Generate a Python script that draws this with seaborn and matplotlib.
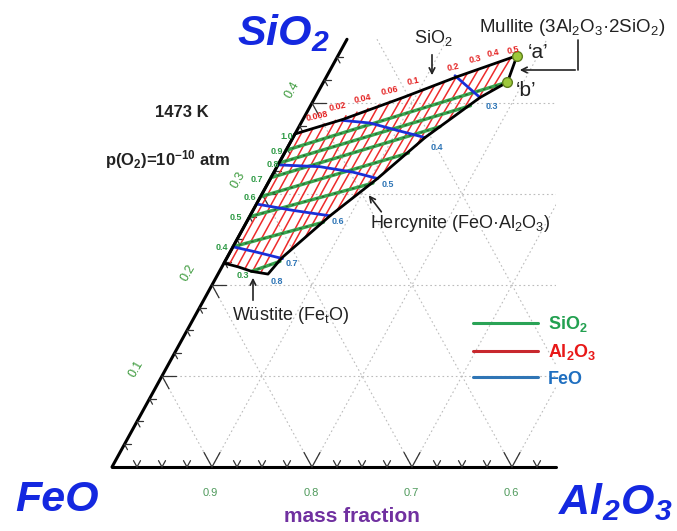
import numpy as np
import pandas as pd
import seaborn as sns
import matplotlib.pyplot as plt
from matplotlib.lines import Line2D
from matplotlib.patches import Polygon

sns.set_style('white')
plt.rcParams['font.family'] = ['Liberation Sans', 'DejaVu Sans']
plt.rcParams['mathtext.fontset'] = 'custom'
plt.rcParams['mathtext.rm'] = 'Liberation Sans'
plt.rcParams['mathtext.it'] = 'Liberation Sans:italic'
plt.rcParams['mathtext.bf'] = 'Liberation Sans:bold'
plt.rcParams['mathtext.default'] = 'regular'

# all compositions are mass fractions: (SiO2, Al2O3), FeO = rest

# liquid region boundaries
sio2_sat_si = [0.366, 0.382, 0.406, 0.429, 0.452]
sio2_sat_al = [0.000, 0.040, 0.088, 0.131, 0.179]
hercynite_si = [0.423, 0.406, 0.362, 0.317, 0.276, 0.230, 0.212]
hercynite_al = [0.184, 0.165, 0.132, 0.107, 0.080, 0.055, 0.050]
wustite_si = [0.212, 0.215, 0.220, 0.224]
wustite_al = [0.050, 0.032, 0.016, 0.000]
point_si = [0.452, 0.423]   # 'a', 'b'
point_al = [0.179, 0.184]

# iso-activity lines of Al2O3 (red): top and bottom ends
red_top_si = [0.368, 0.372, 0.377, 0.381, 0.386, 0.390, 0.394, 0.398, 0.402, 0.405,
              0.409, 0.414, 0.419, 0.423, 0.428, 0.432, 0.437, 0.441, 0.445, 0.449]
red_top_al = [0.006, 0.015, 0.024, 0.033, 0.041, 0.050, 0.059, 0.068, 0.077, 0.087,
              0.095, 0.104, 0.113, 0.121, 0.130, 0.139, 0.148, 0.157, 0.165, 0.174]
red_bot_si = [0.223, 0.220, 0.218, 0.215, 0.214, 0.222, 0.237, 0.252, 0.266, 0.281,
              0.295, 0.308, 0.322, 0.338, 0.353, 0.367, 0.380, 0.392, 0.403, 0.412]
red_bot_al = [0.006, 0.015, 0.024, 0.033, 0.042, 0.053, 0.059, 0.067, 0.075, 0.084,
              0.093, 0.101, 0.110, 0.119, 0.128, 0.136, 0.146, 0.155, 0.164, 0.172]
red_labels = ['0.008', '0.02', '0.04', '0.06', '0.1', '0.2', '0.3', '0.4', '0.5']

# iso-activity lines of SiO2 (green)
green_labels = ['1.0', '0.9', '0.8', '0.7', '0.6', '0.5', '0.4', '0.3']
green_start_si = [0.348, 0.334, 0.318, 0.297, 0.275, 0.242, 0.215]
green_start_al = [0.000, 0.000, 0.000, 0.000, 0.000, 0.000, 0.032]
green_end_si = [0.423, 0.397, 0.374, 0.345, 0.312, 0.269, 0.226]
green_end_al = [0.184, 0.160, 0.141, 0.124, 0.105, 0.077, 0.055]

# iso-activity lines of FeO (blue)
blue_labels = ['0.3', '0.4', '0.5', '0.6', '0.7', '0.8']
blue_si = [[0.430, 0.406], [0.381, 0.378, 0.370, 0.362], [0.332, 0.330, 0.324, 0.317],
           [0.289, 0.282, 0.276], [0.242, 0.236, 0.229]]
blue_al = [[0.128, 0.165], [0.039, 0.069, 0.100, 0.132], [0.000, 0.043, 0.079, 0.107],
           [0.000, 0.040, 0.080], [0.000, 0.027, 0.056]]

feo_ticks = ['0.9', '0.8', '0.7', '0.6']
sio2_ticks = ['0.1', '0.2', '0.3', '0.4']

SQ3 = np.sqrt(3) / 2
SI_MAX = 0.47
AL_MAX = 0.444


def tern(si, al):
    si = np.asarray(si, dtype=float)
    al = np.asarray(al, dtype=float)
    return al + si / 2, si * SQ3


def pix(px, py):
    # layout helper: picture pixel -> data coords
    return (px - 112) / 1000, (467 - py) / 1050.8


def frame(si_lists, al_lists, name):
    rows = []
    for i, (s, a) in enumerate(zip(si_lists, al_lists)):
        x, y = tern(s, a)
        for xx, yy in zip(x, y):
            rows.append((name + str(i), xx, yy))
    return pd.DataFrame(rows, columns=['line', 'x', 'y'])


fig = plt.figure(figsize=(6.77, 5.31), dpi=100)
ax = fig.add_axes([0, 0, 1, 1])
ax.set_xlim(-0.112, 0.565)
ax.set_ylim(-64 / 1050.8, 467 / 1050.8)
ax.axis('off')

# dotted grid, clipped to the visible part of the triangle
clip = Polygon([tern(0, 0), tern(0, AL_MAX), (AL_MAX, SI_MAX * SQ3), tern(SI_MAX, 0)],
               closed=True, transform=ax.transData, fill=False, lw=0)
ax.add_patch(clip)
grid_kw = dict(color='#bcbcbc', lw=0.8, ls=(0, (1.5, 2.5)), zorder=1)
for v in [0.1, 0.2, 0.3, 0.4]:
    for s, a in [([v, v], [0, 1]), ([0, 1 - v], [v, v])]:
        gl, = ax.plot(*tern(s, a), **grid_kw)
        gl.set_clip_path(clip)
for f in [0.9, 0.8, 0.7, 0.6, 0.5]:
    gl, = ax.plot(*tern([1 - f, 0], [0, 1 - f]), **grid_kw)
    gl.set_clip_path(clip)

# triangle edges
ax.plot(*tern([0, 0], [0, AL_MAX]), color='black', lw=2.2, zorder=3)
ax.plot(*tern([0, SI_MAX], [0, 0]), color='black', lw=2.2, zorder=3)

# ticks (V shapes along the bottom, < shapes along the left edge)
for k in range(1, 18):
    t = k * 0.025
    d = 0.016 if k % 4 == 0 else 0.007
    for s, a in [([0, d], [t, t]), ([0, d], [t, t - d])]:
        ax.plot(*tern(s, a), color='#333333', lw=0.9, zorder=3)
for k in range(1, 19):
    t = k * 0.025
    d = 0.014 if k % 4 == 0 else 0.006
    for s, a in [([t, t], [0, d]), ([t, t - d], [0, d])]:
        ax.plot(*tern(s, a), color='#333333', lw=0.9, zorder=3)

# red lines
red_df = frame([[a, b] for a, b in zip(red_top_si, red_bot_si)],
               [[a, b] for a, b in zip(red_top_al, red_bot_al)], 'r')
sns.lineplot(data=red_df, x='x', y='y', units='line', estimator=None, sort=False,
             color='#ee2b2b', lw=1.1, ax=ax, legend=False, zorder=4)

# green lines
green_df = frame([[a, b] for a, b in zip(green_start_si, green_end_si)],
                 [[a, b] for a, b in zip(green_start_al, green_end_al)], 'g')
sns.lineplot(data=green_df, x='x', y='y', units='line', estimator=None, sort=False,
             color='#38a64e', lw=2.4, ax=ax, legend=False, zorder=5)
sns.lineplot(data=green_df, x='x', y='y', units='line', estimator=None, sort=False,
             color='#2a5e30', lw=0.9, ax=ax, legend=False, zorder=5, dashes=False,
             linestyle=(0, (2, 3)))

# blue lines
blue_df = frame(blue_si, blue_al, 'b')
sns.lineplot(data=blue_df, x='x', y='y', units='line', estimator=None, sort=False,
             color='#1a2fd8', lw=2.0, ax=ax, legend=False, zorder=6)

# liquid region boundary
bnd_si = sio2_sat_si + hercynite_si + wustite_si + [sio2_sat_si[0]]
bnd_al = sio2_sat_al + hercynite_al + wustite_al + [sio2_sat_al[0]]
ax.plot(*tern(bnd_si, bnd_al), color='black', lw=2.0, zorder=7)
ax.plot(*tern(point_si, point_al), 'o', color='#9dc83b', mec='#5f7f1c', ms=7, zorder=8)

# value labels
red_pos = [(317, 116), (338, 107), (363, 99), (390, 91), (413, 81), (453, 67),
           (475, 59), (493, 53), (513, 50)]
for lab, (px, py) in zip(red_labels, red_pos):
    ax.text(*pix(px, py), lab, color='#e42222', fontsize=6.5, fontweight='bold',
            ha='center', va='center', rotation=12, zorder=9)
green_pos = [(287, 136), (277, 151), (273, 164), (257, 179), (250, 197), (236, 217),
             (222, 247), (243, 276)]
for lab, (px, py) in zip(green_labels, green_pos):
    ax.text(*pix(px, py), lab, color='#2e9a45', fontsize=6.5, fontweight='bold',
            ha='center', va='center', zorder=9)
blue_pos = [(492, 106), (437, 147), (388, 184), (338, 221), (292, 263), (277, 281)]
for lab, (px, py) in zip(blue_labels, blue_pos):
    ax.text(*pix(px, py), lab, color='#2e75b6', fontsize=6.5, fontweight='bold',
            ha='center', va='center', zorder=9)

# axis labels
for lab, (px, py) in zip(feo_ticks, [(210, 493), (311, 493), (411, 493), (511, 493)]):
    ax.text(*pix(px, py), lab, color='#4f9a5c', fontsize=8, ha='center', va='center')
for lab, (px, py) in zip(sio2_ticks, [(136, 369), (188, 273), (238, 180), (292, 90)]):
    ax.text(*pix(px, py), lab, color='#3c9a3c', fontsize=9, ha='center', va='center',
            rotation=60)

corner_kw = dict(color='#1428e0', fontsize=31, fontweight='bold', style='italic',
                 ha='center', va='center')
ax.text(*pix(283, 33), 'SiO$_2$', **corner_kw)
ax.text(*pix(57, 500), 'FeO', **corner_kw)
ax.text(*pix(615, 502), 'Al$_2$O$_3$', **corner_kw)
ax.text(*pix(352, 517), 'mass fraction', color='#7030a0', fontsize=15,
        fontweight='bold', ha='center', va='center')

ax.text(*pix(182, 112), '1473 K', fontsize=12, fontweight='bold', color='#222222',
        ha='center', va='center')
ax.text(*pix(167, 160), '$p$(O$_2$)=10$^{-10}$ atm', fontsize=12, fontweight='bold',
        color='#222222', ha='center', va='center')

# phase annotations
txt_kw = dict(fontsize=13, color='#222222', ha='center', va='center')
ax.text(*pix(572, 27), 'Mullite (3Al$_2$O$_3$·2SiO$_2$)', fontsize=13.5,
        color='#222222', ha='center', va='center')
ax.text(*pix(433, 38), 'SiO$_2$', **txt_kw)
ax.text(*pix(460, 223), 'Hercynite (FeO·Al$_2$O$_3$)', **txt_kw)
ax.text(*pix(291, 315), 'Wüstite (Fe$_t$O)', **txt_kw)
ax.text(*pix(538, 52), '‘a’', fontsize=15, color='#222222', ha='center', va='center')
ax.text(*pix(526, 90), '‘b’', fontsize=15, color='#222222', ha='center', va='center')

arrow_kw = dict(arrowstyle='->', color='#222222', lw=1.2)
ax.annotate('', xy=pix(432, 78), xytext=pix(432, 52), arrowprops=arrow_kw)
ax.annotate('', xy=pix(367, 193), xytext=pix(383, 214), arrowprops=arrow_kw)
ax.annotate('', xy=pix(253, 275), xytext=pix(253, 303), arrowprops=arrow_kw)
bx, by = zip(pix(578, 40), pix(578, 70))
ax.plot(bx, by, color='#222222', lw=1.2)
ax.annotate('', xy=pix(517, 70), xytext=pix(578, 70), arrowprops=arrow_kw)

# legend
handles = [Line2D([], [], color='#2aa356', lw=2.2),
           Line2D([], [], color='#c8282e', lw=2.2),
           Line2D([], [], color='#2f75b5', lw=2.2)]
leg = ax.legend(handles, ['SiO$_2$', 'Al$_2$O$_3$', 'FeO'], loc='upper left',
                bbox_to_anchor=(457 / 677, 1 - 298 / 531), bbox_transform=fig.transFigure,
                frameon=False, handlelength=3.6, handletextpad=0.55, labelspacing=0.45,
                prop={'weight': 'bold', 'size': 13})
for t, c in zip(leg.get_texts(), ['#22a050', '#e81818', '#1f6fc0']):
    t.set_color(c)

fig.savefig('out.png', dpi=100)
